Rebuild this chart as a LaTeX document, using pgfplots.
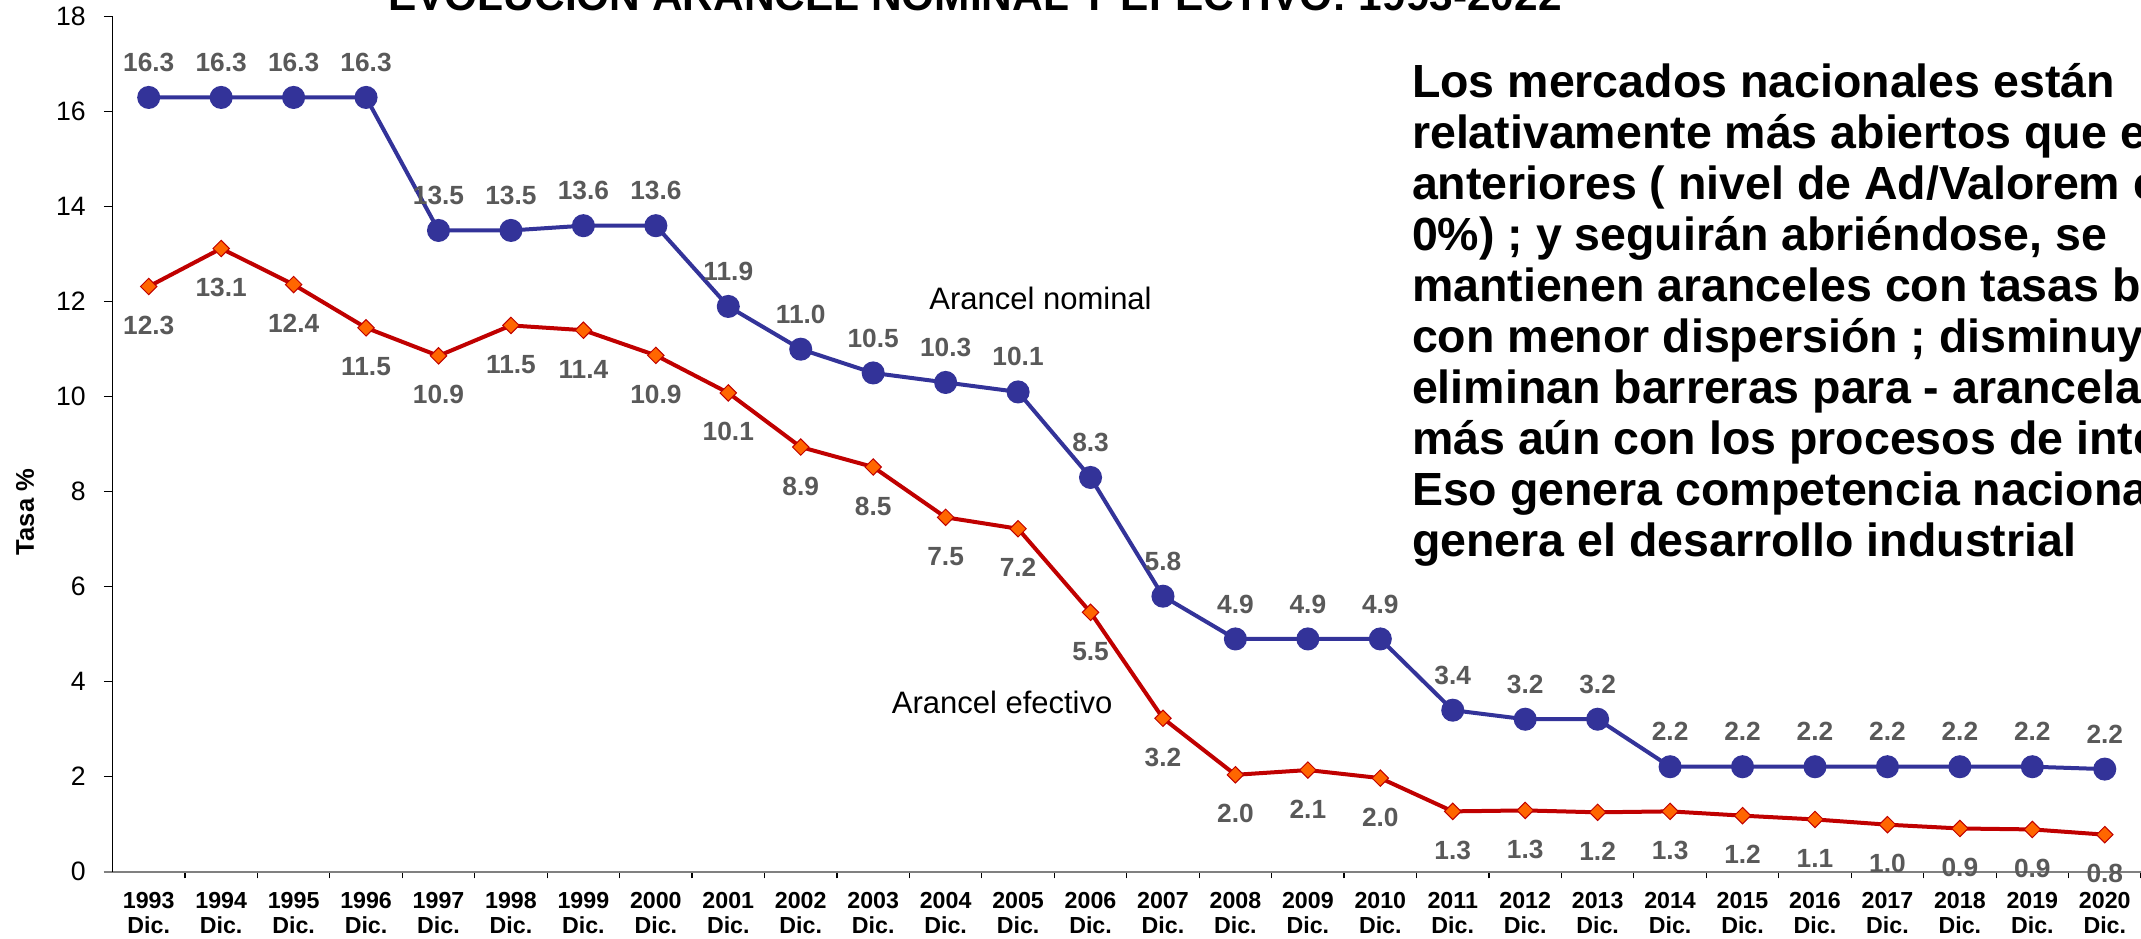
\documentclass[border=0pt]{standalone}
\usepackage{pgfplots}
\pgfplotsset{compat=1.18}
\usepackage{pgfplotstable}
\usepackage{fontspec}
\setmainfont{Liberation Sans}
\definecolor{nomblue}{HTML}{333399}
\definecolor{efred}{HTML}{C00000}
\definecolor{eforange}{HTML}{FF6600}
\definecolor{lblgray}{HTML}{595959}

\pgfplotstableread{
x y lab
0 16.3 16.3
1 16.3 16.3
2 16.3 16.3
3 16.3 16.3
4 13.5 13.5
5 13.5 13.5
6 13.6 13.6
7 13.6 13.6
8 11.9 11.9
9 11.0 11.0
10 10.5 10.5
11 10.3 10.3
12 10.1 10.1
13 8.3 8.3
14 5.8 5.8
15 4.9 4.9
16 4.9 4.9
17 4.9 4.9
18 3.40 3.4
19 3.21 3.2
20 3.21 3.2
21 2.21 2.2
22 2.21 2.2
23 2.21 2.2
24 2.21 2.2
25 2.21 2.2
26 2.21 2.2
27 2.16 2.2
}\nominal

\pgfplotstableread{
x y lab
0 12.32 12.3
1 13.12 13.1
2 12.36 12.4
3 11.45 11.5
4 10.86 10.9
5 11.50 11.5
6 11.40 11.4
7 10.87 10.9
8 10.08 10.1
9 8.94 8.9
10 8.52 8.5
11 7.46 7.5
12 7.22 7.2
13 5.46 5.5
14 3.23 3.2
15 2.04 2.0
16 2.14 2.1
17 1.97 2.0
18 1.27 1.3
19 1.29 1.3
20 1.25 1.2
21 1.27 1.3
22 1.18 1.2
23 1.10 1.1
24 0.99 1.0
25 0.91 0.9
26 0.89 0.9
27 0.78 0.8
}\efectivo

\begin{document}
\begin{tikzpicture}
\useasboundingbox (0,0) rectangle (1070.5pt,469pt);
\clip (0,0) rectangle (1070.5pt,469pt);
\begin{axis}[
  at={(56.25pt,33.15pt)}, anchor=south west,
  scale only axis, width=1014.25pt, height=427.5pt,
  xmin=-0.5, xmax=27.5, ymin=0, ymax=18,
  clip=false,
  axis lines=left,
  x axis line style={-, draw=gray, line width=1.2pt, shorten <=-4.35pt},
  y axis line style={-, draw=black, line width=0.6pt},
  tick align=outside,
  major tick length=4.35pt, minor tick length=3.35pt,
  ytick={0,2,...,18},
  y tick style={black, line width=0.6pt},
  xtick={0,...,27},
  minor xtick={0.5,1.5,...,27.5},
  major x tick style={draw=none},
  minor x tick style={black, line width=0.6pt},
  xticklabels={{1993\\Dic.},{1994\\Dic.},{1995\\Dic.},{1996\\Dic.},{1997\\Dic.},{1998\\Dic.},{1999\\Dic.},{2000\\Dic.},{2001\\Dic.},{2002\\Dic.},{2003\\Dic.},{2004\\Dic.},{2005\\Dic.},{2006\\Dic.},{2007\\Dic.},{2008\\Dic.},{2009\\Dic.},{2010\\Dic.},{2011\\Dic.},{2012\\Dic.},{2013\\Dic.},{2014\\Dic.},{2015\\Dic.},{2016\\Dic.},{2017\\Dic.},{2018\\Dic.},{2019\\Dic.},{2020\\Dic.}},
  xticklabel style={align=center, anchor=north, inner sep=0pt, yshift=-5.5pt, font=\bfseries\fontsize{11.6}{12.5}\selectfont},
  yticklabel style={anchor=east, inner sep=0pt, xshift=-8.85pt, font=\fontsize{13.3}{13.3}\selectfont},
  /pgf/number format/assume math mode=true,
  ylabel={Tasa \%},
  ylabel style={at={(axis description cs:0,0.4207)}, anchor=center, yshift=43.75pt, font=\bfseries\fontsize{12.8}{12.8}\selectfont},
  nodes near coords,
  point meta=explicit symbolic,
  every node near coord/.append style={font=\bfseries\fontsize{13.15}{13.15}\selectfont, text=lblgray, anchor=center},
]
\addplot[color=nomblue, line width=2pt, mark=*, mark size=4.75pt, mark options={fill=nomblue, draw=nomblue},
  every node near coord/.append style={yshift=17.5pt}]
  table[x=x, y=y, meta=lab] {\nominal};
\addplot[color=efred, line width=2pt, mark=square*, mark size=2.9pt, mark options={rotate=45, fill=eforange, draw=efred, line width=0.5pt},
  every node near coord/.append style={yshift=-19.5pt}]
  table[x=x, y=y, meta=lab] {\efectivo};
\node[font=\fontsize{15.5}{15.5}\selectfont, anchor=center] at (axis cs:12.31,12.06) {Arancel nominal};
\node[font=\fontsize{15.5}{15.5}\selectfont, anchor=center] at (axis cs:11.78,3.57) {Arancel efectivo};
\end{axis}
\node[anchor=base, inner sep=0pt, font=\bfseries\fontsize{21.2}{21.2}\selectfont] at (487.5pt,463.5pt) {EVOLUCION ARANCEL NOMINAL Y EFECTIVO: 1993-2022};
\node[anchor=base west, inner sep=0pt] at (705.85pt,420.35pt) {\vtop{\bfseries\fontsize{23.25}{25.5}\selectfont
\hbox{Los mercados nacionales están}
\hbox{relativamente más abiertos que en años}
\hbox{anteriores ( nivel de Ad/Valorem entre 0 y}
\hbox{0\%) ; y seguirán abriéndose, se}
\hbox{mantienen aranceles con tasas bajas}
\hbox{con menor dispersión ; disminuyen y se}
\hbox{eliminan barreras para - arancelarias,}
\hbox{más aún con los procesos de integración.}
\hbox{Eso genera competencia nacional, que}
\hbox{genera el desarrollo industrial}}};
\end{tikzpicture}
\end{document}
